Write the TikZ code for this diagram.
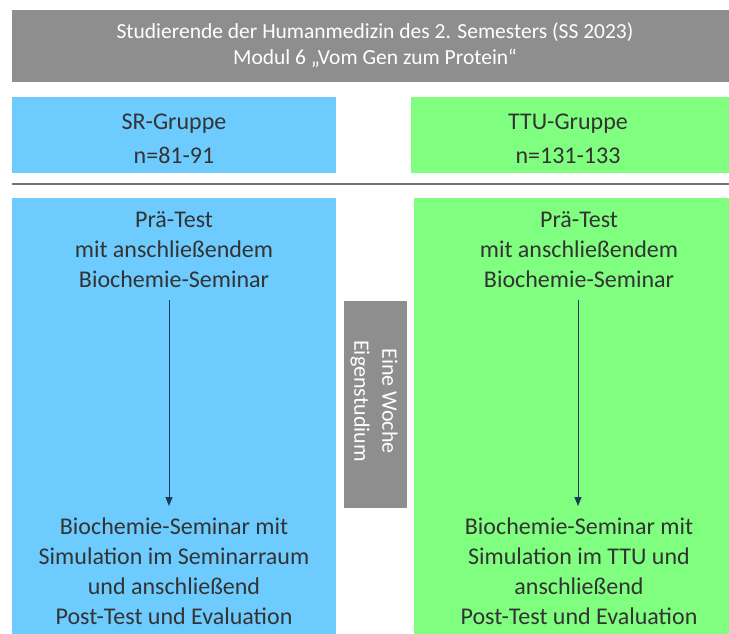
\documentclass[tikz,border=0pt]{standalone}
\usepackage{fontspec}
\setmainfont{Carlito}
\usetikzlibrary{arrows.meta}
\definecolor{hgray}{HTML}{8E8E8E}
\definecolor{sblue}{HTML}{6ECBFE}
\definecolor{sgreen}{HTML}{80FE80}
\definecolor{txt}{HTML}{333333}
\definecolor{arr}{HTML}{1B3A57}
\tikzset{
  box/.style={draw=none, inner sep=0pt, outer sep=0pt, anchor=north west},
  btxt/.style={align=center, text=txt, font=\fontsize{24}{30}\selectfont, inner sep=0pt},
  gtxt/.style={align=center, text=txt, font=\fontsize{24}{34}\selectfont, inner sep=0pt},
  flow/.style={draw=arr, line width=0.9pt, -{Triangle[length=9pt,width=7pt]}}
}
\begin{document}
\begin{tikzpicture}[x=1pt,y=-1pt]
\useasboundingbox (0,0) rectangle (729,634);
% header
\node[box, fill=hgray, minimum width=717pt, minimum height=72pt] (head) at (12,10) {};
\node[align=center, text=white, font=\fontsize{21.5}{26}\selectfont, inner sep=0pt] (headt) at (375,45)
  {Studierende der Humanmedizin des 2. Semesters (SS 2023)\\Modul 6 „Vom Gen zum Protein“};
% group boxes
\node[box, fill=sblue, minimum width=324pt, minimum height=76pt] (sr) at (12,97) {};
\node[gtxt] (srt) at (174,139) {SR-Gruppe\\n=81-91};
\node[box, fill=sgreen, minimum width=318pt, minimum height=76pt] (ttu) at (411,97) {};
\node[gtxt] (ttut) at (568,139) {TTU-Gruppe\\n=131-133};
% separator
\coordinate (sepl) at (12,184);
\coordinate (sepr) at (729,184);
\draw[draw=gray!90!black, line width=1.6pt] (sepl) -- (sepr);
% big boxes
\node[box, fill=sblue, minimum width=324pt, minimum height=436pt] (bl) at (12,198) {};
\node[box, fill=sgreen, minimum width=315pt, minimum height=436pt] (gr) at (414,198) {};
% middle box
\node[box, fill=hgray, draw=white, line width=1pt, minimum width=64pt, minimum height=208pt] (mid) at (343,300) {};
\node[rotate=-90, align=center, text=white, font=\fontsize{22}{28}\selectfont, inner sep=0pt] (midt) at (374,401)
  {Eine Woche\\Eigenstudium};
% left texts
\node[btxt] (pre1) at (174,250) {Prä-Test\\mit anschließendem\\Biochemie-Seminar};
\node[btxt] (post1) at (174,571) {Biochemie-Seminar mit\\Simulation im Seminarraum\\und anschließend\\Post-Test und Evaluation};
% right texts
\node[btxt] (pre2) at (579,250) {Prä-Test\\mit anschließendem\\Biochemie-Seminar};
\node[btxt] (post2) at (579,571) {Biochemie-Seminar mit\\Simulation im TTU und\\anschließend\\Post-Test und Evaluation};
% arrows
\coordinate (a1s) at (169,300);
\coordinate (a1e) at (169,506);
\coordinate (a2s) at (578,300);
\coordinate (a2e) at (578,506);
\draw[flow] (a1s) -- (a1e);
\draw[flow] (a2s) -- (a2e);
\end{tikzpicture}
\end{document}
